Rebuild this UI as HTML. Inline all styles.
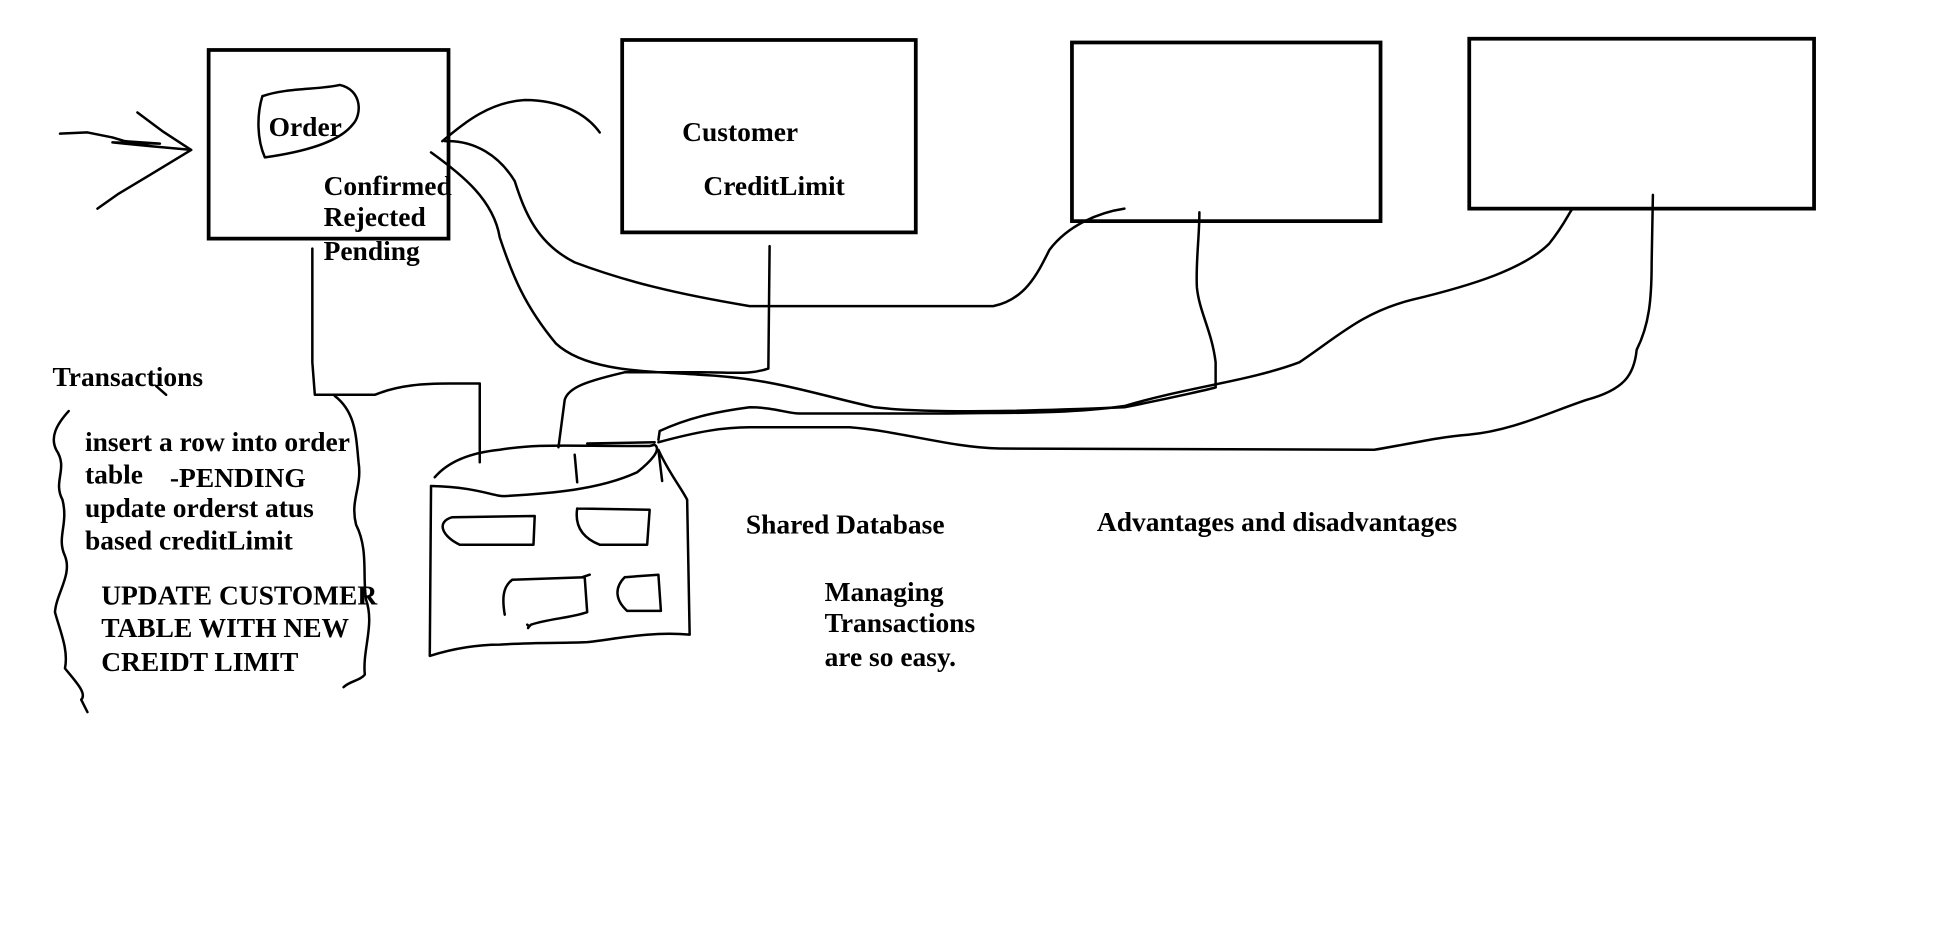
<!DOCTYPE html>
<html><head><meta charset="utf-8"><style>
html,body{margin:0;padding:0;background:#fff;}
svg{display:block;}
text{font-family:"Liberation Serif",serif;font-weight:bold;font-size:22px;fill:#000;}
</style></head><body>
<svg width="1949" height="952" viewBox="0 0 1560 762" preserveAspectRatio="none" xmlns="http://www.w3.org/2000/svg">
<g fill="none" stroke="#000" stroke-width="3">
<rect x="167" y="40" width="192" height="151"/>
<rect x="498" y="32" width="235" height="154"/>
<rect x="858" y="34" width="247" height="143"/>
<rect x="1176" y="31" width="276" height="136"/>
</g>
<g fill="none" stroke="#000" stroke-width="2" stroke-linejoin="round" stroke-linecap="round">
<path d="M48 107 L70 106 L90 110 L100 113 L128 115 L90 114 L120 117 L153 120"/>
<path d="M110 90 L130 105 L153 120 L120 140 L95 155 L78 167"/>
<path d="M210 77 C230 70 255 72 272 68 C290 72 290 92 282 100 C270 115 240 122 212 126 C205 110 206 90 210 77"/>
<path d="M354 113 C370 100 390 82 420 80 C450 80 470 92 480 106"/>
<path d="M356 113 C380 112 400 125 412 145 C420 170 430 195 460 210 C500 225 540 235 600 245 L795 245 C820 240 830 220 840 200 C855 180 880 170 900 167"/>
<path d="M345 122 C370 140 395 160 400 190 C410 220 420 245 445 275 C470 298 520 297 560 300 C620 303 650 315 700 326 C750 332 850 328 900 326 C940 318 975 310 973 310 L973 290 C970 265 960 250 958 230 C957 210 960 190 960 170"/>
<path d="M250 199 L250 290 L252 316 L300 316 C320 308 340 307 360 307 L384 307 L384 370"/>
<path d="M616 197 L615 295 C600 300 590 298 560 298 L500 298 C470 305 455 310 452 320 L447 358"/>
<path d="M527 352 L528 345 C550 335 570 330 600 326 C620 326 630 331 640 331 L760 331 C800 330 850 332 900 325 C950 310 1000 305 1040 290 C1070 270 1090 250 1130 240 C1180 228 1220 215 1240 195 C1252 180 1255 172 1258 168"/>
<path d="M527 354 C560 345 580 342 600 342 L680 342 C720 345 760 358 800 359 L1100 360 C1130 355 1150 350 1175 348 C1210 345 1240 330 1270 320 C1300 312 1308 300 1310 280 C1320 260 1322 240 1322 210 L1323 156"/>
<path d="M348 382 C360 368 380 362 400 360 C430 355 450 357 520 357 L524 356 C530 360 520 370 510 378 C480 392 440 395 405 397 C395 398 385 390 345 389"/>
<path d="M460 364 L462 386"/>
<path d="M470 355 L524 354"/>
<path d="M345 389 L344 525 C360 520 380 516 400 516 C430 514 450 515 470 514 C490 512 520 505 552 508 L550 400 C545 390 535 378 527 360 L530 385"/>
<path d="M362 414 L428 413 L427 436 L368 436 C355 430 348 418 362 414"/>
<path d="M462 407 L520 408 L518 436 L480 436 C465 430 460 420 462 407"/>
<path d="M410 464 L468 462 L470 490 C455 495 440 495 425 500 C420 505 425 502 422 500 M410 464 C402 470 402 480 404 492 M466 462 L472 460"/>
<path d="M500 462 L527 460 L529 489 L502 489 C492 480 492 470 500 462"/>
<path d="M55 329 C45 340 40 350 45 360 C55 375 42 385 50 400 C55 420 45 430 52 445 C58 460 45 475 44 490 C48 505 55 520 52 535 C60 545 70 555 65 560 L70 570"/>
<path d="M268 317 C285 330 285 350 287 370 C290 390 280 400 285 420 C295 440 290 460 293 480 C300 500 290 520 292 540 C288 545 280 545 275 550"/>
<path d="M125 309 L133 316"/>
</g>
<g>
<text x="215" y="109">Order</text>
<text x="546" y="113">Customer</text>
<text x="563" y="156">CreditLimit</text>
<text x="259" y="156">Confirmed</text>
<text x="259" y="181">Rejected</text>
<text x="259" y="208">Pending</text>
<text x="42" y="309">Transactions</text>
<text x="68" y="361">insert a row into order</text>
<text x="68" y="387">table</text>
<text x="136" y="390">-PENDING</text>
<text x="68" y="414">update orderst atus</text>
<text x="68" y="440">based creditLimit</text>
<text x="81" y="484">UPDATE CUSTOMER</text>
<text x="81" y="510">TABLE WITH NEW</text>
<text x="81" y="537">CREIDT LIMIT</text>
<text x="597" y="427">Shared Database</text>
<text x="878" y="425">Advantages and disadvantages</text>
<text x="660" y="481">Managing</text>
<text x="660" y="506">Transactions</text>
<text x="660" y="533">are so easy.</text>
</g>
</svg>
</body></html>
